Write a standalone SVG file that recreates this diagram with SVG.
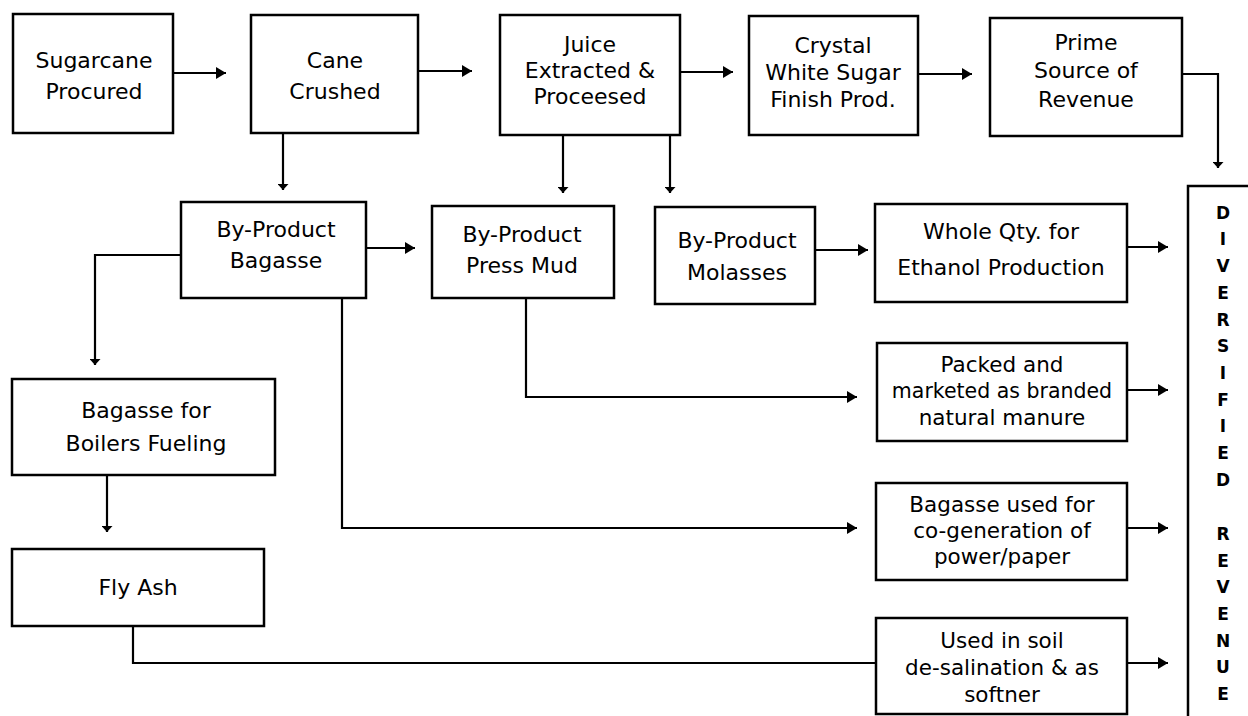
<svg xmlns="http://www.w3.org/2000/svg" width="1248" height="716" viewBox="0 0 1248 716">
<style>
.box{fill:#fff;stroke:#000;stroke-width:2.5}
.t{font-family:"DejaVu Sans","Open Sans",sans-serif;font-size:22px;fill:#000;text-anchor:middle}
.s{font-size:21.5px}
.c{fill:none;stroke:#000;stroke-width:2.2}
.v{font-family:"DejaVu Sans",sans-serif;font-weight:bold;font-size:17px;text-anchor:middle;fill:#000}
</style>
<defs>
<marker id="ar" markerUnits="userSpaceOnUse" markerWidth="10" markerHeight="12" refX="10" refY="6" orient="auto"><path d="M0,0 L10,6 L0,12 z" fill="#000"/></marker>
<marker id="ad" markerUnits="userSpaceOnUse" markerWidth="6" markerHeight="11" refX="6" refY="5.5" orient="auto"><path d="M0,0 L6,5.5 L0,11 z" fill="#000"/></marker>
</defs>
<rect width="1248" height="716" fill="#fff"/>
<g id="connectors">
<path class="c" d="M173,73 H226" marker-end="url(#ar)"/>
<path class="c" d="M418,71 H472" marker-end="url(#ar)"/>
<path class="c" d="M680,72 H733" marker-end="url(#ar)"/>
<path class="c" d="M918,74 H972" marker-end="url(#ar)"/>
<path class="c" d="M1182,74 H1218 V168" marker-end="url(#ad)"/>
<path class="c" d="M283,133 V190" marker-end="url(#ad)"/>
<path class="c" d="M563,135 V193" marker-end="url(#ad)"/>
<path class="c" d="M670,135 V193" marker-end="url(#ad)"/>
<path class="c" d="M366,248 H415" marker-end="url(#ar)"/>
<path class="c" d="M181,255 H95 V365" marker-end="url(#ad)"/>
<path class="c" d="M342,298 V528 H857" marker-end="url(#ar)"/>
<path class="c" d="M526,298 V397 H857" marker-end="url(#ar)"/>
<path class="c" d="M815,250 H868" marker-end="url(#ar)"/>
<path class="c" d="M107,475 V532" marker-end="url(#ad)"/>
<path class="c" d="M133,626 V663 H876"/>
<path class="c" d="M1127,247 H1168" marker-end="url(#ar)"/>
<path class="c" d="M1127,390 H1168" marker-end="url(#ar)"/>
<path class="c" d="M1127,528 H1168" marker-end="url(#ar)"/>
<path class="c" d="M1127,663 H1168" marker-end="url(#ar)"/>
</g>
<g id="sugarcane"><rect class="box" x="13" y="14" width="160" height="119"/><text class="t"><tspan x="94" y="68">Sugarcane</tspan><tspan x="94" y="99">Procured</tspan></text></g>
<g id="cane"><rect class="box" x="251" y="15" width="167" height="118"/><text class="t"><tspan x="335" y="68">Cane</tspan><tspan x="335" y="99">Crushed</tspan></text></g>
<g id="juice"><rect class="box" x="500" y="15" width="180" height="120"/><text class="t"><tspan x="590" y="52">Juice</tspan><tspan x="590" y="78">Extracted &amp;</tspan><tspan x="590" y="104">Proceesed</tspan></text></g>
<g id="crystal"><rect class="box" x="749" y="16" width="169" height="119"/><text class="t"><tspan x="833" y="53">Crystal</tspan><tspan x="833" y="80">White Sugar</tspan><tspan x="833" y="107">Finish Prod.</tspan></text></g>
<g id="prime"><rect class="box" x="990" y="18" width="192" height="118"/><text class="t"><tspan x="1086" y="50">Prime</tspan><tspan x="1086" y="78">Source of</tspan><tspan x="1086" y="107">Revenue</tspan></text></g>
<g id="bagasse"><rect class="box" x="181" y="202" width="185" height="96"/><text class="t"><tspan x="276" y="237">By-Product</tspan><tspan x="276" y="268">Bagasse</tspan></text></g>
<g id="pressmud"><rect class="box" x="432" y="206" width="182" height="92"/><text class="t"><tspan x="522" y="242">By-Product</tspan><tspan x="522" y="273">Press Mud</tspan></text></g>
<g id="molasses"><rect class="box" x="655" y="207" width="160" height="97"/><text class="t"><tspan x="737" y="248">By-Product</tspan><tspan x="737" y="280">Molasses</tspan></text></g>
<g id="whole"><rect class="box" x="875" y="204" width="252" height="98"/><text class="t"><tspan x="1001" y="239">Whole Qty. for</tspan><tspan x="1001" y="275">Ethanol Production</tspan></text></g>
<g id="packed"><rect class="box" x="877" y="343" width="250" height="98"/><text class="t s"><tspan x="1002" y="372">Packed and</tspan><tspan x="1002" y="398" font-size="20.5">marketed as branded</tspan><tspan x="1002" y="425">natural manure</tspan></text></g>
<g id="cogen"><rect class="box" x="876" y="483" width="251" height="97"/><text class="t s"><tspan x="1002" y="512">Bagasse used for</tspan><tspan x="1002" y="538">co-generation of</tspan><tspan x="1002" y="564">power/paper</tspan></text></g>
<g id="soil"><rect class="box" x="876" y="618" width="251" height="96"/><text class="t s"><tspan x="1002" y="648">Used in soil</tspan><tspan x="1002" y="675">de-salination &amp; as</tspan><tspan x="1002" y="702">softner</tspan></text></g>
<g id="boilers"><rect class="box" x="12" y="379" width="263" height="96"/><text class="t"><tspan x="146" y="418">Bagasse for</tspan><tspan x="146" y="451">Boilers Fueling</tspan></text></g>
<g id="flyash"><rect class="box" x="12" y="549" width="252" height="77"/><text class="t" x="138" y="595">Fly Ash</text></g>
<g id="diversified"><rect class="box" x="1188" y="186" width="80" height="560"/>
<text class="v"><tspan x="1223" y="219">D</tspan><tspan x="1223" y="245">I</tspan><tspan x="1223" y="272">V</tspan><tspan x="1223" y="299">E</tspan><tspan x="1223" y="326">R</tspan><tspan x="1223" y="352">S</tspan><tspan x="1223" y="379">I</tspan><tspan x="1223" y="406">F</tspan><tspan x="1223" y="432">I</tspan><tspan x="1223" y="459">E</tspan><tspan x="1223" y="486">D</tspan><tspan x="1223" y="540">R</tspan><tspan x="1223" y="567">E</tspan><tspan x="1223" y="593">V</tspan><tspan x="1223" y="620">E</tspan><tspan x="1223" y="647">N</tspan><tspan x="1223" y="673">U</tspan><tspan x="1223" y="700">E</tspan></text>
</g>
</svg>
